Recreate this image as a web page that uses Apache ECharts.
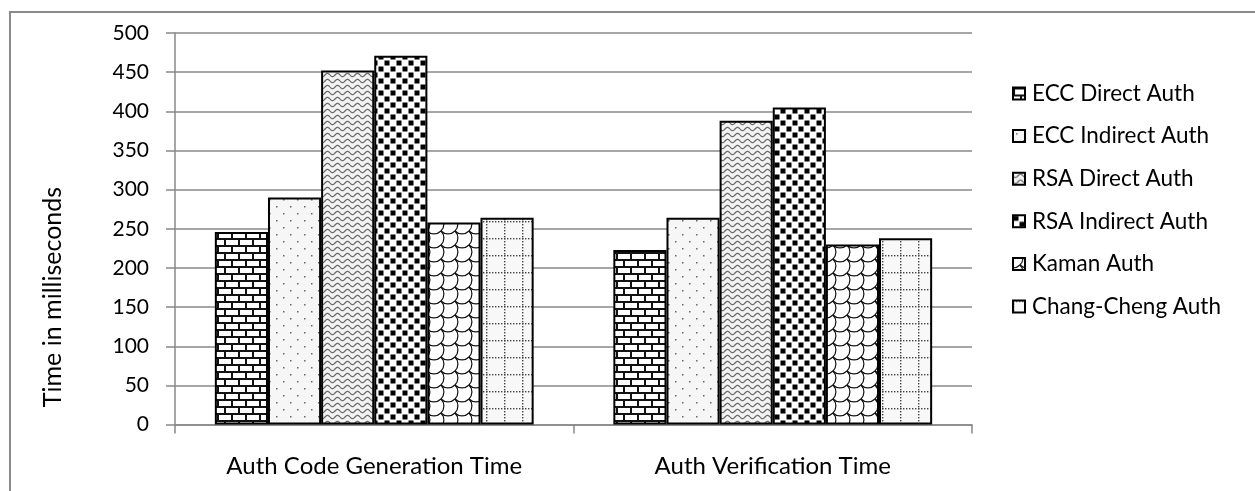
<!DOCTYPE html>
<html>
<head>
<meta charset="utf-8">
<style>
  html, body { margin: 0; padding: 0; background: #fff; }
  #chart { width: 1255px; height: 491px; }
</style>
<script src="https://cdn.jsdelivr.net/npm/echarts@6/dist/echarts.min.js"></script>
</head>
<body>
<div id="chart"></div>
<script>
// Measured authentication times (ms)
const categories = ['Auth Code Generation Time', 'Auth Verification Time'];
const eccDirect = [246, 223];
const eccIndirect = [290, 264];
const rsaDirect = [452, 388];
const rsaIndirect = [471, 405];
const kaman = [258, 230];
const changCheng = [264, 238];
const seriesNames = ['ECC Direct Auth', 'ECC Indirect Auth', 'RSA Direct Auth', 'RSA Indirect Auth', 'Kaman Auth', 'Chang-Cheng Auth'];
const yTicks = { min: 0, max: 500, step: 50 };
const yTitle = 'Time in milliseconds';

// ---- monochrome fill patterns ----
function tile(w, h, draw) {
  const c = document.createElement('canvas');
  c.width = w; c.height = h;
  const g = c.getContext('2d');
  draw(g, w, h);
  return { image: c, repeat: 'repeat' };
}
const brick = tile(14, 14, (g, w, h) => {
  g.fillStyle = '#fff'; g.fillRect(0, 0, w, h);
  g.fillStyle = '#111';
  g.fillRect(0, 0, w, 2);
  g.fillRect(0, 7, w, 2);
  g.fillRect(0, 2, 2, 5);
  g.fillRect(7, 9, 2, 5);
});
const dots = tile(14, 14, (g, w, h) => {
  g.fillStyle = '#f6f6f6'; g.fillRect(0, 0, w, h);
  g.fillStyle = '#666';
  g.fillRect(3, 3, 1.5, 1.5);
  g.fillRect(10, 10, 1.5, 1.5);
});
const wave = tile(10, 6, (g, w, h) => {
  g.fillStyle = '#f3f3f3'; g.fillRect(0, 0, w, h);
  g.strokeStyle = '#6a6a6a'; g.lineWidth = 1.3;
  g.beginPath();
  for (let x = 0; x <= w; x += 0.5) {
    const y = 3 + 1.6 * Math.sin(2 * Math.PI * x / w);
    if (x === 0) g.moveTo(x, y); else g.lineTo(x, y);
  }
  g.stroke();
});
const checker = tile(12, 12, (g, w, h) => {
  g.fillStyle = '#fff'; g.fillRect(0, 0, w, h);
  g.fillStyle = '#000';
  g.fillRect(0.5, 0.5, 5, 5);
  g.fillRect(6.5, 6.5, 5, 5);
});
// fish scales turned 45 degrees; the rotated lattice repeats on a square tile
const SCALE_STEP = 14;
const scales = tile(SCALE_STEP, SCALE_STEP, (g, w, h) => {
  g.fillStyle = '#fff'; g.fillRect(0, 0, w, h);
  g.strokeStyle = '#111'; g.lineWidth = 1.2;
  const r = SCALE_STEP / Math.SQRT2;
  for (let i = -2; i <= 3; i++) {
    for (let j = -2; j <= 3; j++) {
      g.beginPath();
      g.arc(i * SCALE_STEP, j * SCALE_STEP, r, -Math.PI / 4, Math.PI * 3 / 4);
      g.stroke();
    }
  }
});
const dotGrid = tile(18, 17, (g, w, h) => {
  g.fillStyle = '#f8f8f8'; g.fillRect(0, 0, w, h);
  g.fillStyle = '#444';
  for (let x = 0; x < w; x += 3) g.fillRect(x, 0, 1.4, 1.4);
  for (let y = 0; y < h; y += 3) g.fillRect(0, y, 1.4, 1.4);
});

const fills = [brick, dots, wave, checker, scales, dotGrid];
const values = [eccDirect, eccIndirect, rsaDirect, rsaIndirect, kaman, changCheng];

const FONT = 'Lato, "Open Sans", sans-serif';
const AXIS_GRAY = '#888';

const chart = echarts.init(document.getElementById('chart'), null, { renderer: 'canvas' });
chart.setOption({
  animation: false,
  backgroundColor: '#fff',
  textStyle: { fontFamily: FONT, color: '#000' },
  graphic: [{
    type: 'rect',
    shape: { x: 10, y: 12, width: 1400, height: 700 },
    style: { fill: 'none', stroke: '#8a8a8a', lineWidth: 2 },
    silent: true,
    z: 0
  }, {
    type: 'text',
    x: 53,
    y: 297,
    rotation: Math.PI / 2,
    style: {
      text: yTitle,
      font: '25px Lato, "Open Sans", sans-serif',
      fill: '#000',
      textAlign: 'center',
      textVerticalAlign: 'middle'
    },
    silent: true
  }],
  grid: { left: 175, right: 283, top: 33, bottom: 66.4 },
  legend: {
    orient: 'vertical',
    left: 1007,
    top: 77,
    itemWidth: 12,
    itemHeight: 12,
    itemGap: 19.6,
    icon: 'rect',
    textStyle: { fontFamily: FONT, fontSize: 22.5, color: '#000', padding: [0, 0, 0, 2] },
    data: seriesNames
  },
  xAxis: {
    type: 'category',
    data: categories,
    axisLine: { lineStyle: { color: AXIS_GRAY, width: 1.5 } },
    axisTick: { show: true, length: 9, lineStyle: { color: AXIS_GRAY, width: 1.5 } },
    axisLabel: { fontFamily: FONT, fontSize: 24, color: '#000', margin: 30 },
    splitLine: { show: false }
  },
  yAxis: {
    type: 'value',
    min: yTicks.min,
    max: yTicks.max,
    interval: yTicks.step,
    axisLine: { show: true, lineStyle: { color: AXIS_GRAY, width: 1.5 } },
    axisTick: { show: true, length: 9, lineStyle: { color: AXIS_GRAY, width: 1.5 } },
    axisLabel: { fontFamily: FONT, fontSize: 21, color: '#000', margin: 26 },
    splitLine: { show: true, lineStyle: { color: AXIS_GRAY, width: 1.5 } }
  },
  series: seriesNames.map((name, i) => ({
    name,
    type: 'bar',
    data: values[i],
    barGap: '0%',
    barCategoryGap: '20%',
    itemStyle: { color: fills[i], borderColor: '#000', borderWidth: 2 },
    z: 3
  }))
});
</script>
</body>
</html>
